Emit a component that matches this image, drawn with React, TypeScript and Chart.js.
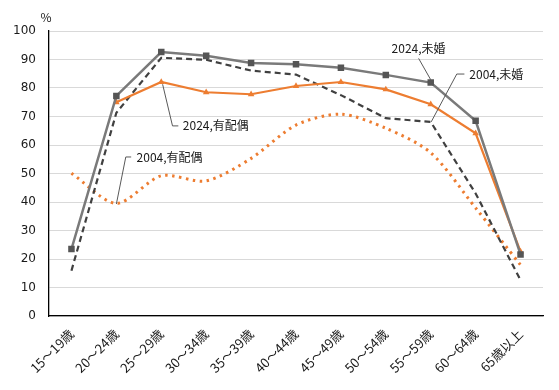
import React, { useEffect, useRef } from "react";
import { Chart, registerables } from "chart.js";

Chart.register(...registerables);

const categories = [
  "15～19歳", "20～24歳", "25～29歳", "30～34歳", "35～39歳", "40～44歳",
  "45～49歳", "50～54歳", "55～59歳", "60～64歳", "65歳以上",
];
const unmarried2024 = [23.5, 77.2, 92.6, 91.3, 88.8, 88.3, 87.1, 84.6, 81.9, 68.5, 21.6];
const married2024 = [null, 75.0, 82.1, 78.5, 77.8, 80.7, 82.1, 79.5, 74.3, 64.1, 22.6];
const unmarried2004 = [15.9, 71.3, 90.6, 89.9, 86.1, 84.7, 77.5, 69.4, 68.1, 43.0, 12.6];
const married2004 = [50.1, 39.5, 49.2, 47.4, 55.3, 67.0, 70.8, 65.9, 57.3, 37.9, 17.9];

const seriesNames = ["2024,未婚", "2024,有配偶", "2004,未婚", "2004,有配偶"];
const yTicks = [0, 10, 20, 30, 40, 50, 60, 70, 80, 90, 100];
const unitLabel = "%";

// Callout labels: text, text anchor (category index, value), align, leader path (index, value)
const calloutTexts = ["2024,有配偶", "2004,有配偶", "2024,未婚", "2004,未婚"];
const calloutAnchors: [number, number][] = [[2.48, 66.7], [1.45, 55.8], [7.73, 94.0], [8.86, 84.9]];
const calloutAligns = ["left", "left", "center", "left"];
const calloutPaths: [number, number][][] = [
  [[2.03, 81.3], [2.25, 66.7], [2.38, 66.7]],
  [[1.0, 39.3], [1.21, 55.8], [1.33, 55.8]],
  [[7.73, 90.4], [8.0, 82.9]],
  [[8.01, 68.1], [8.58, 84.9], [8.75, 84.9]],
];

const calloutPlugin = {
  id: "callouts",
  afterDatasetsDraw(chart: any) {
    const { ctx, scales } = chart;
    const xs = scales.x;
    const ys = scales.y;
    ctx.save();
    ctx.font = '12px "Noto Sans CJK JP"';
    ctx.fillStyle = "#1a1a1a";
    ctx.textAlign = "center";
    ctx.textBaseline = "middle";
    ctx.fillText(unitLabel, chart.chartArea.left - 3, chart.chartArea.top - 14);
    ctx.strokeStyle = "#595959";
    ctx.lineWidth = 1;
    calloutPaths.forEach((path) => {
      ctx.beginPath();
      path.forEach(([i, v], k) => {
        const px = xs.getPixelForValue(i);
        const py = ys.getPixelForValue(v);
        if (k === 0) ctx.moveTo(px, py);
        else ctx.lineTo(px, py);
      });
      ctx.stroke();
    });
    ctx.font = '12px "Noto Sans CJK JP"';
    ctx.fillStyle = "#1a1a1a";
    ctx.textBaseline = "middle";
    calloutTexts.forEach((t, k) => {
      const [i, v] = calloutAnchors[k];
      ctx.textAlign = calloutAligns[k] as CanvasTextAlign;
      ctx.fillText(t, xs.getPixelForValue(i), ys.getPixelForValue(v));
    });
    ctx.restore();
  },
};

export default function App() {
  const ref = useRef<HTMLCanvasElement>(null);
  useEffect(() => {
    if (!ref.current) return;
    const chart = new Chart(ref.current, {
      type: "line",
      data: {
        labels: categories,
        datasets: [
          {
            label: seriesNames[0],
            data: unmarried2024,
            borderColor: "#7a7a7a",
            borderWidth: 2.5,
            pointStyle: "rect",
            pointRadius: 4.6,
            pointBackgroundColor: "#555555",
            pointBorderColor: "#555555",
            pointBorderWidth: 0,
            tension: 0,
          },
          {
            label: seriesNames[1],
            data: married2024,
            borderColor: "#ED7D31",
            borderWidth: 2.2,
            pointStyle: "triangle",
            pointRadius: 3.8,
            pointBackgroundColor: "#ED7D31",
            pointBorderColor: "#ED7D31",
            pointBorderWidth: 0,
            tension: 0,
            spanGaps: false,
          },
          {
            label: seriesNames[2],
            data: unmarried2004,
            borderColor: "#404040",
            borderWidth: 2.2,
            borderDash: [6, 4],
            pointRadius: 0,
            tension: 0,
          },
          {
            label: seriesNames[3],
            data: married2004,
            borderColor: "#ED7D31",
            borderWidth: 3,
            borderDash: [2.5, 4.5],
            pointRadius: 0,
            tension: 0.28,
          },
        ],
      },
      options: {
        animation: false,
        responsive: false,
        maintainAspectRatio: false,
        layout: { padding: { top: 31, right: 16, left: 0, bottom: 0 } },
        plugins: {
          legend: { display: false },
          tooltip: { enabled: false },
        },
        scales: {
          x: {
            type: "category",
            offset: true,
            grid: { display: false, drawTicks: false },
            border: { display: true, color: "#000000", width: 1.3 },
            ticks: {
              autoSkip: false,
              maxRotation: 45,
              minRotation: 45,
              padding: 10,
              color: "#1a1a1a",
              font: { family: '"Noto Sans CJK JP"', size: 13 },
            },
            afterFit(scale: any) {
              scale.height = 74;
            },
          },
          y: {
            min: 0,
            max: 100,
            afterBuildTicks(scale: any) {
              scale.ticks = yTicks.map((v) => ({ value: v }));
            },
            grid: { color: "#d9d9d9", lineWidth: 1, drawTicks: false },
            border: { display: true, color: "#000000", width: 1.3 },
            ticks: {
              padding: 13,
              color: "#1a1a1a",
              font: { family: '"DejaVu Sans"', size: 12 },
            },
            afterFit(scale: any) {
              scale.width = 49;
            },
          },
        },
      },
      plugins: [calloutPlugin],
    });
    return () => chart.destroy();
  }, []);
  return (
    <div style={{ position: "fixed", left: 0, top: 0, width: 559, height: 390, background: "#ffffff" }}>
      <canvas ref={ref} width={559} height={390} style={{ width: 559, height: 390 }} />
    </div>
  );
}
